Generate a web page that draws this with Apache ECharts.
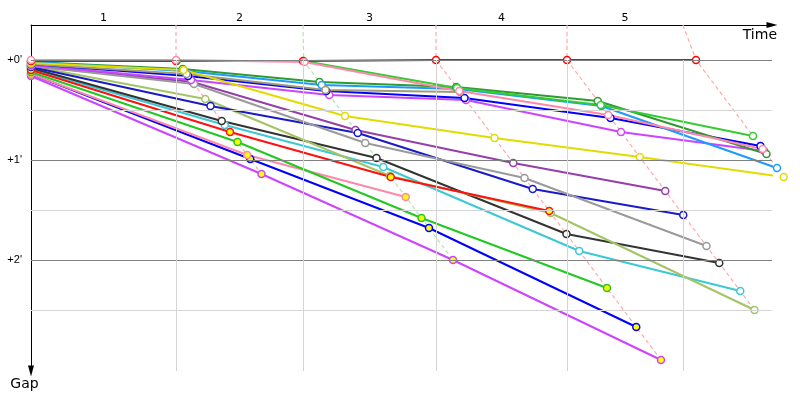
<!DOCTYPE html>
<html><head><meta charset="utf-8">
<script src="https://cdn.jsdelivr.net/npm/echarts@6/dist/echarts.min.js"></script>
<style>html,body{margin:0;padding:0;background:#fff}#c{width:800px;height:400px}</style>
</head><body><div id="c"></div>
<script>
// ---- data (time in seconds, gap in seconds) ----
const lapLabels = ['1', '2', '3', '4', '5'];
const lapGridTimes = [116, 217.6, 324, 428.8, 521.6];
const gapTicks = [0, 60, 120];
const gapTickLabels = ["+0'", "+1'", "+2'"];
const majorGaps = [0, 60, 120];
const minorGaps = [30, 90, 150];

const red        = [[0,0.6],[116,0.6],[217.6,0.6],[324,0],[428.8,0],[532,0]];
const pink1      = [[0,0],[116,0],[218.8,1.2],[342.6,18.6],[461.8,33],[585.4,53.4]];
const green1     = [[0,0.6],[116.6,0.6],[218.2,0.6],[340.8,16.8],[455.8,27],[577.6,45.6]];
const darkGreen  = [[0,1.2],[121.4,5.4],[230.8,13.2],[340.2,16.2],[453.4,24.6],[588.4,56.4]];
const lightBlue  = [[0,1.2],[122.6,6.6],[232.6,15],[341.4,17.4],[456.4,27.6],[596.8,64.8]];
const blue1      = [[0,2.4],[125.6,9.6],[236.2,18.6],[346.8,22.8],[463.6,34.8],[583.6,51.6]];
const magenta1   = [[0,3],[128,12],[238.6,21],[348,24],[472,43.2],[586.6,54.6]];
const olive      = [[0,2.4],[124.4,8.4],[235.6,18],[343.2,19.2]];
const yellow     = [[0,1.8],[122,6],[251.2,33.6],[370.8,46.8],[487,58.2],[602.2,70.2]];
const purple     = [[0,3.6],[129.2,13.2],[259.6,42],[385.8,61.8],[507.4,78.6]];
const grey       = [[0,3.6],[130.4,14.4],[267.4,49.8],[394.8,70.8],[540.4,111.6]];
const yellowGreen= [[0,3.6],[139.4,23.4],[287.2,69.6],[415.8,91.8],[578.8,150]];
const blue2      = [[0,4.2],[143.6,27.6],[261.4,43.8],[401.4,77.4],[521.8,93]];
const black      = [[0,4.8],[152.6,36.6],[276.4,58.8],[428.4,104.4],[550.6,121.8]];
const teal       = [[0,5.4],[155,39],[281.8,64.2],[438.6,114.6],[567.4,138.6]];
const red2       = [[0,6],[159.2,43.2],[287.8,70.2],[414.6,90.6]];
const green2     = [[0,7.2],[165.2,49.2],[312.4,94.8],[460.8,136.8]];
const pink2      = [[0,8.4],[173,57],[299.8,82.2]];
const blue3      = [[0,8.4],[175.4,59.4],[318.4,100.8],[484.2,160.2]];
const magenta2   = [[0,9.6],[184.4,68.4],[337.6,120],[504,180]];

// ---- styling / assembly ----
const X_MAX = 592.8, Y_MIN = -21, Y_MAX = 186.6;
const drivers = [
  {d: magenta2, c: '#cc44ff', f: '#ffff00'},
  {d: blue3, c: '#0000ff', f: '#ffff00'},
  {d: pink2, c: '#ff88aa', f: '#ffff00'},
  {d: green2, c: '#22c822', f: '#ffff00'},
  {d: teal, c: '#3cc8d4', f: '#ffffff'},
  {d: black, c: '#333333', f: '#ffffff'},
  {d: yellowGreen, c: '#a4c466', f: '#ffffff'},
  {d: red2, c: '#ff1010', f: '#ffff00'},
  {d: purple, c: '#9440a8', f: '#ffffff'},
  {d: blue2, c: '#1a1ac8', f: '#ffffff'},
  {d: grey, c: '#9a9a9a', f: '#ffffff'},
  {d: magenta1, c: '#cc44ff', f: '#ffffff'},
  {d: blue1, c: '#0000ff', f: '#ffffff'},
  {d: darkGreen, c: '#2f9a2f', f: '#ffffff'},
  {d: lightBlue, c: '#1a9cff', f: '#ffffff'},
  {d: olive, c: '#a09a78', f: '#ffffff'},
  {d: yellow, c: '#e0dc00', f: '#ffffff'},
  {d: green1, c: '#33cc33', f: '#ffffff'},
  {d: red, c: '#ff0000', f: '#ffffff'},
  {d: pink1, c: '#ff88a8', f: '#ffffff'}
];
const lapColors = ['#ffaaaa', '#b4e4b4', '#ffaaaa', '#ffaaaa', '#ffaaaa'];

const lapBounds = [0].concat(lapGridTimes);
const lapMid = lapLabels.map((_, i) => (lapBounds[i] + lapBounds[i + 1]) / 2);

const series = [];
const gridMarks = [];
majorGaps.forEach(g => gridMarks.push({yAxis: g, lineStyle: {color: '#808080', width: 1, type: 'solid'}}));
minorGaps.forEach(g => gridMarks.push({yAxis: g, lineStyle: {color: '#d4d4d4', width: 1, type: 'solid'}}));
lapGridTimes.forEach(t => gridMarks.push([{coord: [t, 0], lineStyle: {color: '#d4d4d4', width: 1, type: 'solid'}}, {coord: [t, Y_MAX]}]));
series.push({
  type: 'line', data: [[0, 0]], showSymbol: false, lineStyle: {opacity: 0}, z: 1, silent: true,
  markLine: {silent: true, symbol: ['none', 'none'], label: {show: false}, animation: false, data: gridMarks}
});

for (let k = 1; k <= 5; k++) {
  const pts = drivers.filter(o => o.d.length > k).map(o => o.d[k]).sort((a, b) => a[1] - b[1]);
  series.push({
    type: 'line', data: [[lapGridTimes[k - 1], Y_MIN]].concat(pts), showSymbol: false, symbol: 'none',
    lineStyle: {color: lapColors[k - 1], width: 1.2, type: [4, 3]}, z: 2, clip: false, silent: true
  });
}

drivers.forEach(o => {
  series.push({
    type: 'line', data: o.d, symbol: 'circle', symbolSize: 7, showAllSymbol: true, clip: false,
    lineStyle: {color: o.c, width: 2}, itemStyle: {color: o.f, borderColor: o.c, borderWidth: 1.5},
    z: 3, silent: true
  });
});

const chart = echarts.init(document.getElementById('c'), null, {renderer: 'canvas'});
chart.setOption({
  animation: false,
  backgroundColor: '#ffffff',
  grid: {left: 31, top: 25, right: 28, bottom: 29},
  xAxis: {
    type: 'value', position: 'top', min: 0, max: X_MAX,
    name: 'Time', nameLocation: 'end', nameGap: 5,
    nameTextStyle: {fontFamily: 'DejaVu Sans', fontSize: 14, color: '#000', align: 'right', verticalAlign: 'top', padding: [3, 0, 0, 0]},
    axisLine: {show: true, onZero: false, lineStyle: {color: '#000', width: 1}, symbol: ['none', 'triangle'], symbolSize: [6, 11]},
    axisTick: {show: false}, splitLine: {show: false},
    axisLabel: {customValues: lapMid, margin: 1, fontFamily: 'DejaVu Sans', fontSize: 11, color: '#000',
      formatter: v => { let b = 0; lapMid.forEach((m, i) => { if (Math.abs(m - v) < Math.abs(lapMid[b] - v)) b = i; }); return lapLabels[b]; }}
  },
  yAxis: {
    type: 'value', inverse: true, min: Y_MIN, max: Y_MAX,
    name: 'Gap', nameLocation: 'end', nameGap: 6,
    nameTextStyle: {fontFamily: 'DejaVu Sans', fontSize: 14, color: '#000', align: 'center', verticalAlign: 'top', padding: [0, 13, 0, 0]},
    axisLine: {show: true, onZero: false, lineStyle: {color: '#000', width: 1}, symbol: ['triangle', 'none'], symbolSize: [6, 11]},
    axisTick: {show: false}, splitLine: {show: false},
    axisLabel: {customValues: gapTicks, margin: 9, fontFamily: 'Liberation Sans', fontSize: 11, color: '#000',
      formatter: v => { let b = 0; gapTicks.forEach((m, i) => { if (Math.abs(m - v) < Math.abs(gapTicks[b] - v)) b = i; }); return gapTickLabels[b]; }}
  },
  series: series
});
</script></body></html>
